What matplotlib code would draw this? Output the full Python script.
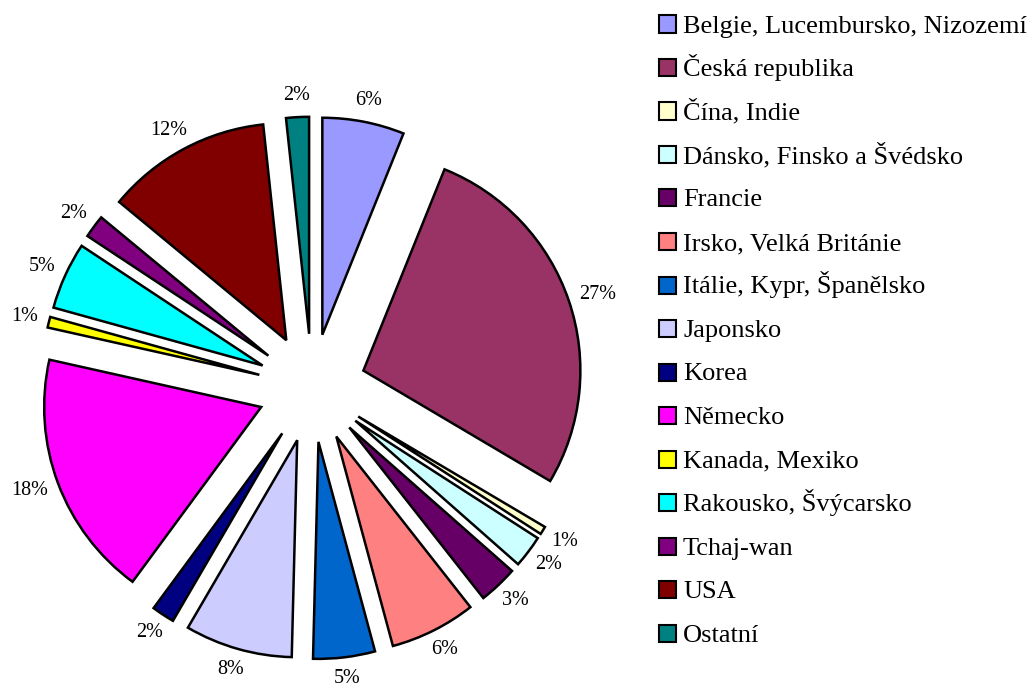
import matplotlib
matplotlib.use('Agg')
import matplotlib.pyplot as plt
from matplotlib.patches import Rectangle
import numpy as np

plt.rcParams['font.family'] = ['Liberation Serif', 'DejaVu Serif']

# podíly zemí (%)
zeme = ['Belgie, Lucembursko, Nizozemí', 'Česká republika', 'Čína, Indie',
        'Dánsko, Finsko a Švédsko', 'Francie', 'Irsko, Velká Británie',
        'Itálie, Kypr, Španělsko', 'Japonsko', 'Korea', 'Německo',
        'Kanada, Mexiko', 'Rakousko, Švýcarsko', 'Tchaj-wan', 'USA', 'Ostatní']
podil = [6.1, 27.4, 0.6, 2.4, 2.9, 6.4, 4.6, 8.0, 1.7, 18.4,
         0.8, 5.0, 1.7, 12.3, 1.7]
barvy = ['#9999FF', '#993366', '#FFFFCC', '#CCFFFF', '#660066', '#FF8080',
         '#0066CC', '#CCCCFF', '#000080', '#FF00FF', '#FFFF00', '#00FFFF',
         '#800080', '#800000', '#008080']

W_PX, H_PX = 1034, 688
CX, CY, R = 312, 388, 217      # střed a poloměr koláče v px
GAP = 12                       # mezera popisku od oblouku (px)

fig = plt.figure(figsize=(W_PX / 100, H_PX / 100), dpi=100)
fig.patch.set_facecolor('white')

ax_w = 641
ax = fig.add_axes([0, 0, ax_w / W_PX, 1])
wedges, texts, autotexts = ax.pie(
    podil, colors=barvy, explode=[0.25] * len(podil),
    startangle=90, counterclock=False, radius=1,
    autopct=lambda p: f'{p:.0f}%', pctdistance=1.1,
    wedgeprops=dict(edgecolor='black', linewidth=1.8),
    textprops=dict(fontsize=14.5, color='black'))

ax.set_aspect('auto')
ax.set_xlim(-CX / R, (ax_w - CX) / R)
ax.set_ylim(-(H_PX - CY) / R, CY / R)
ax.axis('off')

# popisky mimo oblouk (jako v Excelu: okraj textu kousek od oblouku)
fig.canvas.draw()
rend = fig.canvas.get_renderer()
for w, t in zip(wedges, autotexts):
    a = np.deg2rad((w.theta1 + w.theta2) / 2)
    ux, uy = np.cos(a), np.sin(a)
    bb = t.get_window_extent(rend)
    hw, hh = bb.width / 2 / R, bb.height / 2 / R
    cx, cy = w.center
    d = w.r + GAP / R
    t.set_position((cx + d * ux + hw * ux, cy + d * uy + hh * uy))
    t.set_ha('center')
    t.set_va('center')

# legenda
LX, LY0, STEP, SQ = 659, 24, 43.5, 17
for i, (name, c) in enumerate(zip(zeme, barvy)):
    yc = LY0 + i * STEP
    fig.add_artist(Rectangle((LX / W_PX, 1 - (yc + SQ / 2) / H_PX),
                             SQ / W_PX, SQ / H_PX, transform=fig.transFigure,
                             facecolor=c, edgecolor='black', linewidth=1.5))
    fig.text(683 / W_PX, 1 - (yc + SQ / 2) / H_PX, name, fontsize=19,
             ha='left', va='baseline', color='black')

fig.savefig('out.png', dpi=100, facecolor='white')
